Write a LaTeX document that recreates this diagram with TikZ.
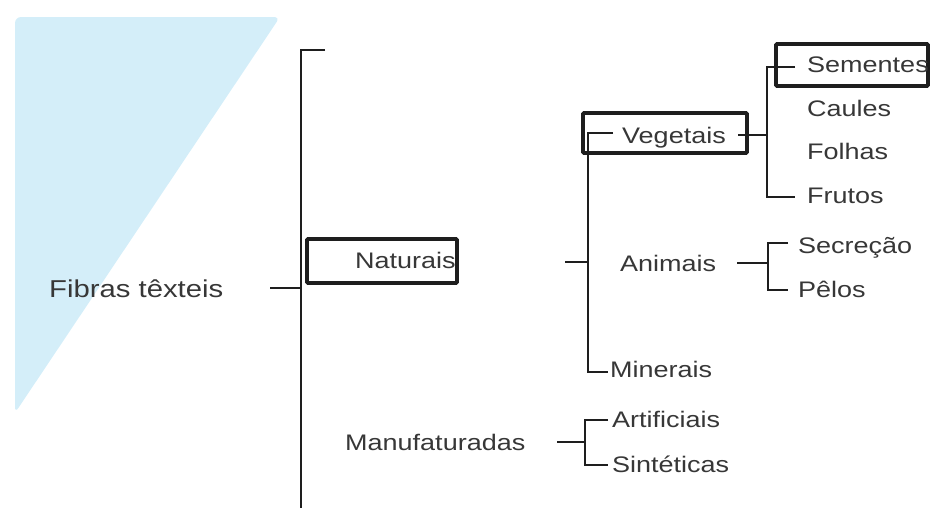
\documentclass[tikz,border=0pt]{standalone}
\usepackage{fontspec}
\setmainfont{Liberation Sans}[FakeStretch=1.2]
\definecolor{scanblue}{RGB}{212,238,249}
\definecolor{inkline}{RGB}{30,30,30}
\definecolor{inktext}{RGB}{55,55,55}
\begin{document}
\begin{tikzpicture}[x=1pt,y=-1pt,
  lbl/.style={anchor=base west,inner sep=0pt,text=inktext,font=\fontsize{22.5}{27}\selectfont},
  biglbl/.style={lbl,font=\fontsize{24.4}{29}\selectfont},
  conn/.style={draw=inkline,line width=2pt},
  framebox/.style={draw=inkline,line width=3.6pt,rounded corners=1pt}]
\useasboundingbox (0,0) rectangle (930,507);
% scanned blue shape
\fill[scanblue,rounded corners=6pt] (15,17) -- (280,17) -- (15,413) -- cycle;
% boxes
\draw[framebox] (307,239) rectangle (457,283);
\draw[framebox] (583,113) rectangle (747,153);
\draw[framebox] (776,44) rectangle (928,86);
% labels
\node[biglbl] (fib) at (49,297) {Fibras têxteis};
\node[lbl] (nat) at (355,268) {Naturais};
\node[lbl] (man) at (345,450) {Manufaturadas};
\node[lbl] (veg) at (622,143) {Vegetais};
\node[lbl] (ani) at (620,271) {Animais};
\node[lbl] (min) at (610,377) {Minerais};
\node[lbl] (sem) at (807,72) {Sementes};
\node[lbl] (cau) at (807,116) {Caules};
\node[lbl] (fol) at (807,159) {Folhas};
\node[lbl] (fru) at (807,203) {Frutos};
\node[lbl] (sec) at (798,253) {Secreção};
\node[lbl] (pel) at (798,297) {Pêlos};
\node[lbl] (art) at (612,427) {Artificiais};
\node[lbl] (sin) at (612,472) {Sintéticas};
% main bracket
\coordinate (mT) at (301,50);
\coordinate (mB) at (301,512);
\draw[conn] (325,50) -- (mT) -- (mB);
\draw[conn] (270,288) -- (301,288);
% natural bracket
\draw[conn] (565,262) -- (588,262);
\draw[conn] (613,133) -- (588,133) -- (588,372) -- (608,372);
% vegetal bracket
\draw[conn] (738,135) -- (767,135);
\draw[conn] (795,67) -- (767,67) -- (767,197) -- (795,197);
% animal bracket
\draw[conn] (737,263) -- (768,263);
\draw[conn] (788,243) -- (768,243) -- (768,290) -- (788,290);
% manufactured bracket
\draw[conn] (557,442) -- (585,442);
\draw[conn] (608,420) -- (585,420) -- (585,465) -- (608,465);
\end{tikzpicture}
\end{document}
